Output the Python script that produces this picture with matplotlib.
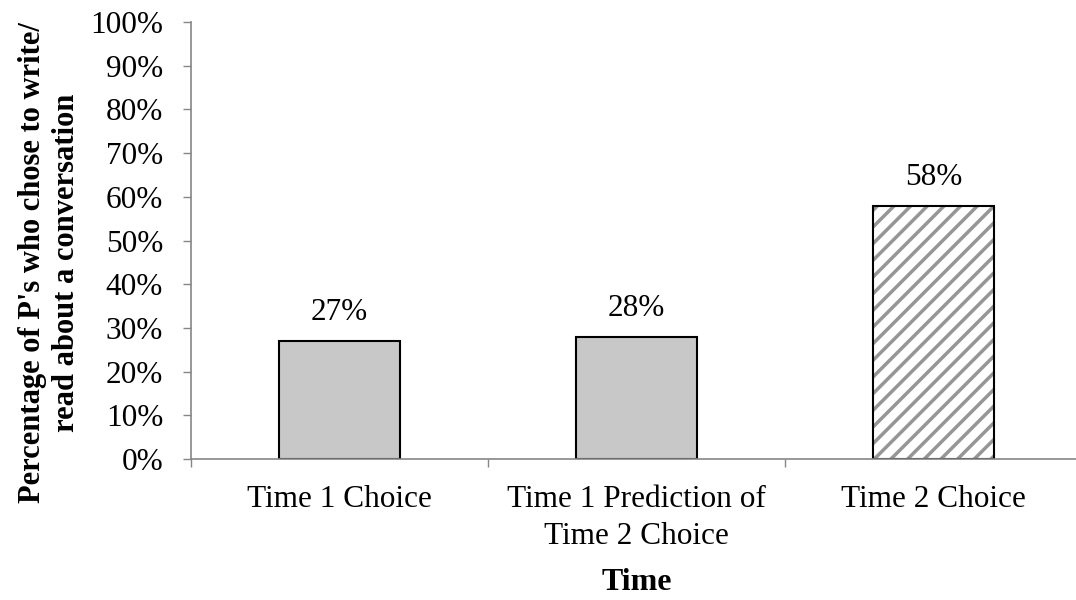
import matplotlib

matplotlib.use('Agg')
import matplotlib.pyplot as plt
import numpy as np

matplotlib.rcParams['font.family'] = 'Liberation Serif'
matplotlib.rcParams['font.size'] = 22.5
matplotlib.rcParams['hatch.linewidth'] = 2.5

categories = ['Time 1 Choice', 'Time 1 Prediction of\nTime 2 Choice', 'Time 2 Choice']
values = [27, 28, 58]
hatched = [False, False, True]

axis_grey = '#868686'

fig = plt.figure(figsize=(10.76, 6.0), dpi=100)
ax = fig.add_axes([0.1775, 0.235, 0.828, 0.7283])

x = np.arange(len(categories)) + 0.5
width = 0.41
for xi, v, h in zip(x, values, hatched):
    if h:
        ax.bar(xi, v, width, color='white', edgecolor='#969696', hatch='//', linewidth=0)
        ax.bar(xi, v, width, fill=False, edgecolor='black', linewidth=1.5)
    else:
        ax.bar(xi, v, width, color='#c8c8c8', edgecolor='black', linewidth=1.5)
    ax.annotate(f'{v}%', (xi, v), xytext=(0, 15), textcoords='offset points',
                ha='center', va='baseline', fontsize=22.5)

ax.set_xlim(0, 3)
ax.set_ylim(0, 100)
ax.set_yticks(np.arange(0, 101, 10))
ax.set_yticklabels([f'{t}%' for t in range(0, 101, 10)])
ax.set_xticks([0, 1, 2, 3])
ax.set_xticklabels([])
ax.set_xticks(x, minor=True)
ax.set_xticklabels(categories, minor=True, linespacing=1.35)
ax.tick_params(axis='x', which='minor', length=0, pad=19)
ax.tick_params(axis='x', which='major', length=6, width=1, color=axis_grey, direction='out')
ax.tick_params(axis='y', length=6, width=1, color=axis_grey, direction='out', pad=14)

for s in ['top', 'right']:
    ax.spines[s].set_visible(False)
for s in ['left', 'bottom']:
    ax.spines[s].set_color(axis_grey)
    ax.spines[s].set_linewidth(1.2)

ax.set_xlabel('Time', fontweight='bold', fontsize=23, va='center')
ax.xaxis.set_label_coords(0.5, -0.283)
ax.set_ylabel("Percentage of P's who chose to write/\nread about a conversation",
              fontweight='bold', fontsize=22, va='center', linespacing=1.2)
ax.yaxis.set_label_coords(-0.159, 0.45)

plt.savefig('out.png', dpi=100)
